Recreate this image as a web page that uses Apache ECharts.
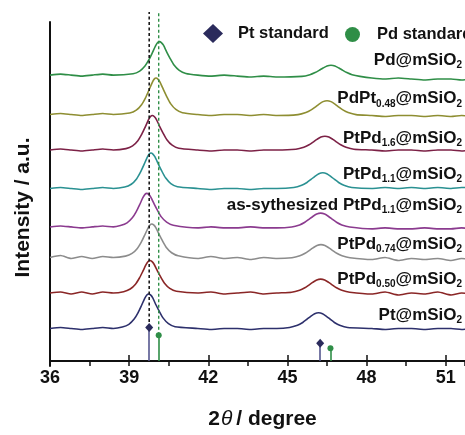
<!DOCTYPE html>
<html><head><meta charset="utf-8">
<script src="https://cdn.jsdelivr.net/npm/echarts@6/dist/echarts.min.js"></script>
<style>html,body{margin:0;padding:0;background:#fff}#c{width:465px;height:435px}</style>
</head><body><div id="c"></div>
<script>
// ---- Data (2θ in degrees, intensity in a.u. including vertical offset) ----
const ptStdPos = [39.76, 46.24];
const ptStdInt = [34, 18];
const pdStdPos = [40.12, 46.63];
const pdStdInt = [26, 13];

const xTicks = [36, 39, 42, 45, 48, 51];

const pdMSiO2 = [[36.0,290],[36.4,291],[36.8,290],[37.2,289],[37.6,290],[38.0,291],[38.4,290],
 [39.15,291.4],[39.40,294.1],[39.60,299.2],[39.75,305.6],[39.87,312.1],[40.00,319.6],[40.08,323],[40.15,324],[40.22,323],[40.30,320.3],[40.43,313.1],[40.55,307],[40.70,300.2],[40.90,294.8],[41.15,291.7],
 [41.6,290],[42.1,289],[42.6,290],[43.1,289],[43.6,288],[44.1,289],[44.6,288],
 [45.55,288.7],[45.85,290.4],[46.05,292.6],[46.20,294.8],[46.35,297.2],[46.50,299.3],[46.65,300],[46.80,299.3],[46.95,297.2],[47.10,294.8],[47.25,292.6],[47.45,290.4],[47.75,288.7],
 [48.2,287],[48.7,286],[49.2,287],[49.7,286],[50.2,285],[50.7,286],[51.2,286],[51.6,285],[52.0,286]];

const pdPt048 = [[36.0,250],[36.4,251],[36.8,250],[37.2,249],[37.6,250],[38.0,251],[38.4,250],
 [39.02,251.5],[39.27,254.4],[39.47,260],[39.62,267],[39.74,274.1],[39.87,282.2],[39.95,285.9],[40.02,287],[40.09,285.9],[40.17,282.9],[40.30,275.2],[40.42,268.5],[40.57,261.1],[40.77,255.2],[41.02,251.9],
 [41.6,250],[42.1,249],[42.6,250],[43.1,250],[43.6,249],[44.1,250],[44.6,249],
 [45.4,249.9],[45.7,252],[45.9,254.7],[46.05,257.6],[46.2,260.6],[46.35,263.1],[46.5,264],[46.65,263.1],[46.8,260.6],[46.95,257.6],[47.1,254.7],[47.3,252],[47.6,249.9],
 [48.2,249],[48.7,248],[49.2,249],[49.7,249],[50.2,248],[50.7,249],[51.2,248],[51.6,249],[52.0,248]];

const ptPd16 = [[36.0,214],[36.4,215],[36.8,214],[37.2,213],[37.6,214],[38.0,215],[38.4,214],
 [38.88,215.4],[39.13,218.2],[39.33,223.5],[39.48,230.1],[39.60,236.8],[39.73,244.5],[39.81,248],[39.88,249],[39.95,248],[40.03,245.2],[40.16,237.8],[40.28,231.5],[40.43,224.5],[40.63,218.9],[40.88,215.8],
 [41.6,214],[42.1,213],[42.6,214],[43.1,214],[43.6,213],[44.1,214],[44.6,214],
 [45.32,214.8],[45.62,216.8],[45.82,219.3],[45.97,222],[46.12,224.8],[46.27,227.2],[46.42,228],[46.57,227.2],[46.72,224.8],[46.87,222],[47.02,219.3],[47.22,216.8],[47.52,214.8],
 [48.2,214],[48.7,213],[49.2,214],[49.7,214],[50.2,213],[50.7,214],[51.2,214],[51.6,213],[52.0,214]];

const ptPd11 = [[36.0,175],[36.4,176],[36.8,175],[37.2,174],[37.6,175],[38.0,176],[38.4,175],
 [38.83,176.4],[39.08,179.3],[39.28,184.7],[39.43,191.6],[39.55,198.4],[39.68,206.3],[39.76,209.9],[39.83,211],[39.90,209.9],[39.98,207],[40.11,199.5],[40.23,193],[40.38,185.8],[40.58,180],[40.83,176.8],
 [41.6,175],[42.1,174],[42.6,175],[43.1,175],[43.6,174],[44.1,175],[44.6,175],
 [45.24,176],[45.54,178.2],[45.74,181.1],[45.89,184.1],[46.04,187.3],[46.19,190],[46.34,191],[46.49,190],[46.64,187.3],[46.79,184.1],[46.94,181.1],[47.14,178.2],[47.44,176],
 [48.2,175],[48.7,176],[49.2,175],[49.7,176],[50.2,175],[50.7,176],[51.2,175],[51.6,176],[52.0,176]];

const asSynPtPd11 = [[36.0,136],[36.4,137],[36.8,136],[37.2,135],[37.6,136],[38.0,137],[38.4,136],
 [38.67,137.4],[38.92,140.1],[39.12,145.2],[39.27,151.6],[39.39,158.1],[39.52,165.6],[39.60,169],[39.67,170],[39.74,169],[39.82,166.3],[39.95,159.1],[40.07,153],[40.22,146.2],[40.42,140.8],[40.67,137.7],
 [41.6,135],[42.1,136],[42.6,135],[43.1,135],[43.6,136],[44.1,135],[44.6,135],
 [45.16,135.9],[45.46,138],[45.66,140.7],[45.81,143.6],[45.96,146.6],[46.11,149.1],[46.26,150],[46.41,149.1],[46.56,146.6],[46.71,143.6],[46.86,140.7],[47.06,138],[47.36,135.9],
 [48.2,134],[48.7,135],[49.2,134],[49.7,134],[50.2,135],[50.7,134],[51.2,134],[51.6,135],[52.0,134]];

const ptPd074 = [[36.0,105],[36.4,107],[36.8,104],[37.2,106],[37.6,104],[38.0,106],[38.4,105],
 [38.86,106.4],[39.11,109.1],[39.31,114.2],[39.46,120.6],[39.58,127.1],[39.71,134.6],[39.79,138],[39.86,139],[39.93,138],[40.01,135.3],[40.14,128.1],[40.26,122],[40.41,115.2],[40.61,109.8],[40.86,106.7],
 [41.6,104],[42.1,106],[42.6,104],[43.1,105],[43.6,103],[44.1,105],[44.6,104],
 [45.17,104.8],[45.47,106.8],[45.67,109.3],[45.82,112],[45.97,114.8],[46.12,117.2],[46.27,118],[46.42,117.2],[46.57,114.8],[46.72,112],[46.87,109.3],[47.07,106.8],[47.37,104.8],
 [48.2,103],[48.7,105],[49.2,102],[49.7,104],[50.2,103],[50.7,104],[51.2,102],[51.6,104],[52.0,103]];

const ptPd050 = [[36.0,69],[36.4,70],[36.8,68],[37.2,70],[37.6,68],[38.0,70],[38.4,69],
 [38.79,70.3],[39.04,73],[39.24,77.9],[39.39,84.2],[39.51,90.5],[39.64,97.7],[39.72,101],[39.79,102],[39.86,101],[39.94,98.4],[40.07,91.4],[40.19,85.5],[40.34,78.9],[40.54,73.6],[40.79,70.7],
 [41.6,69],[42.1,70],[42.6,68],[43.1,69],[43.6,70],[44.1,68],[44.6,69],
 [45.16,69.8],[45.46,71.8],[45.66,74.3],[45.81,77],[45.96,79.8],[46.11,82.2],[46.26,83],[46.41,82.2],[46.56,79.8],[46.71,77],[46.86,74.3],[47.06,71.8],[47.36,69.8],
 [48.2,68],[48.7,70],[49.2,67],[49.7,69],[50.2,68],[50.7,70],[51.2,67],[51.6,69],[52.0,68]];

const ptMSiO2 = [[36.0,33],[36.4,34],[36.8,33],[37.2,32],[37.6,33],[38.0,34],[38.4,33],
 [38.74,34.4],[38.99,37.2],[39.19,42.5],[39.34,49.1],[39.46,55.8],[39.59,63.5],[39.67,67],[39.74,68],[39.81,67],[39.89,64.2],[40.02,56.8],[40.14,50.5],[40.29,43.5],[40.49,37.9],[40.74,34.8],
 [41.6,33],[42.1,32],[42.6,33],[43.1,33],[43.6,32],[44.1,33],[44.6,33],
 [45.08,34],[45.38,36.2],[45.58,39.1],[45.73,42.1],[45.88,45.3],[46.03,48],[46.18,49],[46.33,48],[46.48,45.3],[46.63,42.1],[46.78,39.1],[46.98,36.2],[47.28,34],
 [48.2,33],[48.7,32],[49.2,33],[49.7,33],[50.2,32],[50.7,33],[51.2,33],[51.6,32],[52.0,33]];

const sampleLabels = [
  '{m|Pd@mSiO}{s|2}',
  '{m|PdPt}{s|0.48}{m|@mSiO}{s|2}',
  '{m|PtPd}{s|1.6}{m|@mSiO}{s|2}',
  '{m|PtPd}{s|1.1}{m|@mSiO}{s|2}',
  '{m|as-sythesized PtPd}{s|1.1}{m|@mSiO}{s|2}',
  '{m|PtPd}{s|0.74}{m|@mSiO}{s|2}',
  '{m|PtPd}{s|0.50}{m|@mSiO}{s|2}',
  '{m|Pt@mSiO}{s|2}'
];
const sampleData = [pdMSiO2, pdPt048, ptPd16, ptPd11, asSynPtPd11, ptPd074, ptPd050, ptMSiO2];
const sampleLabelY = [305, 266, 226, 189, 158, 118, 83, 46];

// ---- Styling ----
const FONT = '"Liberation Sans", Arial, sans-serif';
const colors = ['#2f8e47', '#8e8e32', '#7c2146', '#2a9192', '#8b3b8f', '#8c8c8c', '#8a2626', '#2d306c'];
const PT_COLOR = '#2b2b5c', PT_STEM = '#55578f', PD_COLOR = '#2f8e47';
const XMIN = 36, XMAX = 51.73, YMAX = 354, LABEL_X = 51.62;
const rich = {
  m: {fontSize: 17, fontWeight: 'bold', color: '#111', fontFamily: FONT, lineHeight: 20},
  s: {fontSize: 10, fontWeight: 'bold', color: '#111', fontFamily: FONT, lineHeight: 4, verticalAlign: 'bottom'}
};

const series = sampleData.map((d, i) => ({
  type: 'line', xAxisIndex: 0, yAxisIndex: 0, data: d, showSymbol: false, symbol: 'none',
  smooth: 0.2, lineStyle: {color: colors[i], width: 1.6}, itemStyle: {color: colors[i]},
  silent: true, z: 3,
  markPoint: {
    symbol: 'circle', symbolSize: 0, silent: true,
    data: [{coord: [LABEL_X, sampleLabelY[i]], value: 0}],
    label: {show: true, position: 'left', distance: 0, formatter: sampleLabels[i], rich: rich}
  }
}));

// dashed reference lines
series.push({
  type: 'line', data: [[ptStdPos[0], ptStdInt[0]], [ptStdPos[0], YMAX]], symbol: 'none', silent: true, z: 4,
  lineStyle: {color: '#1a1a1a', width: 1.6, type: [3, 2.5]}
});
series.push({
  type: 'line', data: [[pdStdPos[0], pdStdInt[0]], [pdStdPos[0], YMAX]], symbol: 'none', silent: true, z: 4,
  lineStyle: {color: PD_COLOR, width: 1.4, type: [3, 2.5]}
});

// standards with stems
series.push({
  name: 'Pt standard', type: 'scatter', symbol: 'diamond', symbolSize: [8, 9], z: 6,
  data: ptStdPos.map((x, i) => [x, ptStdInt[i]]), itemStyle: {color: PT_COLOR, opacity: 1},
  markLine: {symbol: 'none', silent: true, label: {show: false}, lineStyle: {color: PT_STEM, type: 'solid', width: 1.6},
    data: ptStdPos.map((x, i) => [{coord: [x, 0]}, {coord: [x, ptStdInt[i]]}])}
});
series.push({
  name: 'Pd standard', type: 'scatter', symbol: 'circle', symbolSize: 6, z: 6,
  data: pdStdPos.map((x, i) => [x, pdStdInt[i]]), itemStyle: {color: PD_COLOR, opacity: 1},
  markLine: {symbol: 'none', silent: true, label: {show: false}, lineStyle: {color: PD_COLOR, type: 'solid', width: 1.6},
    data: pdStdPos.map((x, i) => [{coord: [x, 0]}, {coord: [x, pdStdInt[i]]}])}
});

const legendText = {fontSize: 16.5, fontWeight: 'bold', color: '#111', fontFamily: FONT};
const option = {
  animation: false,
  backgroundColor: '#fff',
  legend: [
    {data: [{name: 'Pt standard', icon: 'diamond'}], left: 198, top: 19, itemWidth: 20, itemHeight: 19,
     textStyle: Object.assign({padding: [0, 0, 0, 10]}, legendText), selectedMode: false},
    {data: [{name: 'Pd standard', icon: 'circle'}], left: 340, top: 21, itemWidth: 15, itemHeight: 15,
     textStyle: Object.assign({padding: [0, 0, 0, 12]}, legendText), selectedMode: false}
  ],
  grid: [
    {left: 50, right: 0, top: 12, bottom: 69},
    {left: 50, right: 0, top: 22, bottom: 69}
  ],
  xAxis: [
    {type: 'value', gridIndex: 0, min: XMIN, max: XMAX, interval: 3,
     axisLine: {show: true, lineStyle: {color: '#111', width: 2}},
     axisTick: {show: true, inside: true, length: 6, lineStyle: {color: '#111', width: 1.5}},
     minorTick: {show: false},
     splitLine: {show: false},
     axisLabel: {show: true, margin: 8, fontSize: 18, fontWeight: 'bold', color: '#111', fontFamily: FONT,
       showMaxLabel: false,
       formatter: v => (xTicks.indexOf(v) >= 0 ? String(v) : '')},
     name: '{a|2}{t|θ}{n|/ degree}', nameLocation: 'middle', nameGap: 48,
     nameTextStyle: {rich: {
       a: {fontSize: 21, fontWeight: 'bold', color: '#111', fontFamily: FONT, padding: [0, 0, 0, 10]},
       n: {fontSize: 21, fontWeight: 'bold', color: '#111', fontFamily: FONT},
       t: {fontSize: 21, fontStyle: 'italic', fontWeight: 'normal', color: '#111', fontFamily: FONT, padding: [0, 4, 0, 1]}
     }}},
    {type: 'value', gridIndex: 1, min: XMIN, max: XMAX, interval: 1.5,
     axisLine: {show: false}, axisLabel: {show: false}, splitLine: {show: false},
     axisTick: {show: true, inside: true, length: 4, lineStyle: {color: '#111', width: 1.5}}}
  ],
  yAxis: [
    {type: 'value', gridIndex: 0, min: 0, max: YMAX, show: false},
    {type: 'value', gridIndex: 1, min: 0, max: 344,
     axisLine: {show: true, onZero: false, lineStyle: {color: '#111', width: 2}},
     axisTick: {show: false}, axisLabel: {show: false}, splitLine: {show: false},
     name: 'Intensity / a.u.', nameLocation: 'middle', nameGap: 16, nameRotate: 90,
     nameTextStyle: {fontSize: 21, fontWeight: 'bold', color: '#111', fontFamily: FONT, padding: [0, 27, 0, 0]}}
  ],
  series: series
};
const chart = echarts.init(document.getElementById('c'), null, {renderer: 'canvas'});
chart.setOption(option);
</script></body></html>
